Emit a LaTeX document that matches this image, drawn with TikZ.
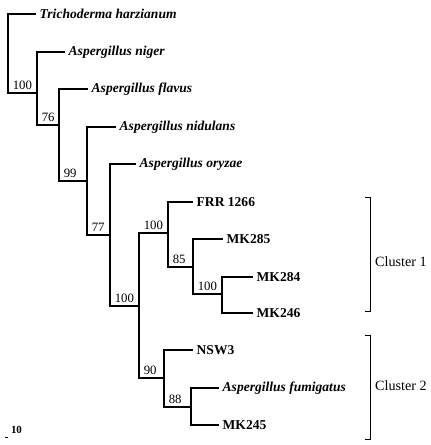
\documentclass[tikz,border=0pt]{standalone}
\usepackage{fontspec}
\setmainfont{Liberation Serif}
\usepackage{tikz}
\usetikzlibrary{positioning}

\begin{document}
\begin{tikzpicture}[
    x=1bp, y=-1bp,
    branch/.style={line width=1.7bp, line cap=rect},
    bracket/.style={line width=0.9bp},
    leaf/.style={anchor=west, inner xsep=4.5bp, inner ysep=1bp, font=\fontsize{13.6}{15}\selectfont\bfseries},
    species/.style={leaf, font=\fontsize{13.6}{15}\selectfont\bfseries\itshape},
    boot/.style={anchor=south west, inner xsep=4bp, inner ysep=3bp, font=\fontsize{12.8}{14}\selectfont},
    clus/.style={anchor=west, inner sep=2bp, font=\fontsize{14.2}{16}\selectfont}
]
    \useasboundingbox (0,0) rectangle (430,445);

    % Internal nodes
    \coordinate (root) at (8,93);
    \coordinate (cA) at (37,93);
    \coordinate (cB) at (59,125);
    \coordinate (cC) at (87,181);
    \coordinate (cD) at (110,235);
    \coordinate (cE) at (139,306);
    \coordinate (cF) at (168,233);
    \coordinate (cG) at (193,267);
    \coordinate (cH) at (222,294);
    \coordinate (cI) at (164,378);
    \coordinate (cJ) at (191,407);

    % Leaves
    \node[species] (trich) at (35,14) {Trichoderma harzianum};
    \node[species] (niger) at (64,52) {Aspergillus niger};
    \node[species] (flavus) at (87,89) {Aspergillus flavus};
    \node[species] (nidulans) at (115,127) {Aspergillus nidulans};
    \node[species] (oryzae) at (135,164) {Aspergillus oryzae};
    \node[leaf] (frr) at (192,202) {FRR 1266};
    \node[leaf] (mk285) at (222,239) {MK285};
    \node[leaf] (mk284) at (252,277) {MK284};
    \node[leaf] (mk246) at (252,313) {MK246};
    \node[leaf] (nsw3) at (192,350) {NSW3};
    \node[species] (fumig) at (218,388) {Aspergillus fumigatus};
    \node[leaf] (mk245) at (218,425) {MK245};

    % Branches
    \draw[branch] (root) |- (trich.west);
    \draw[branch] (root) |- node[boot] {100} (cA);
    \draw[branch] (cA) |- (niger.west);
    \draw[branch] (cA) |- node[boot] {76} (cB);
    \draw[branch] (cB) |- (flavus.west);
    \draw[branch] (cB) |- node[boot] {99} (cC);
    \draw[branch] (cC) |- (nidulans.west);
    \draw[branch] (cC) |- node[boot] {77} (cD);
    \draw[branch] (cD) |- (oryzae.west);
    \draw[branch] (cD) |- node[boot] {100} (cE);
    \draw[branch] (cE) |- node[boot] {100} (cF);
    \draw[branch] (cE) |- node[boot] {90} (cI);
    \draw[branch] (cF) |- (frr.west);
    \draw[branch] (cF) |- node[boot] {85} (cG);
    \draw[branch] (cG) |- (mk285.west);
    \draw[branch] (cG) |- node[boot] {100} (cH);
    \draw[branch] (cH) |- (mk284.west);
    \draw[branch] (cH) |- (mk246.west);
    \draw[branch] (cI) |- (nsw3.west);
    \draw[branch] (cI) |- node[boot] {88} (cJ);
    \draw[branch] (cJ) |- (fumig.west);
    \draw[branch] (cJ) |- (mk245.west);

    % Clusters
    \coordinate (c1top) at (365,197);
    \coordinate (c1bot) at (365,311);
    \coordinate (c2top) at (365,335);
    \coordinate (c2bot) at (365,439);
    \draw[bracket] (c1top) -- ++(5,0) |- (c1bot);
    \draw[bracket] (c2top) -- ++(5,0) |- (c2bot);
    \node[clus] (clus1) at (373,262) {Cluster 1};
    \node[clus] (clus2) at (373,386) {Cluster 2};

    % Scale
    \coordinate (sbl) at (5,437);
    \coordinate (sbr) at (8,437);
    \draw[bracket] (sbl) -- (sbr);
    \node[font=\fontsize{11}{12}\selectfont\bfseries, inner sep=0pt] (scale) at (16.5,430) {10};

\end{tikzpicture}
\end{document}
